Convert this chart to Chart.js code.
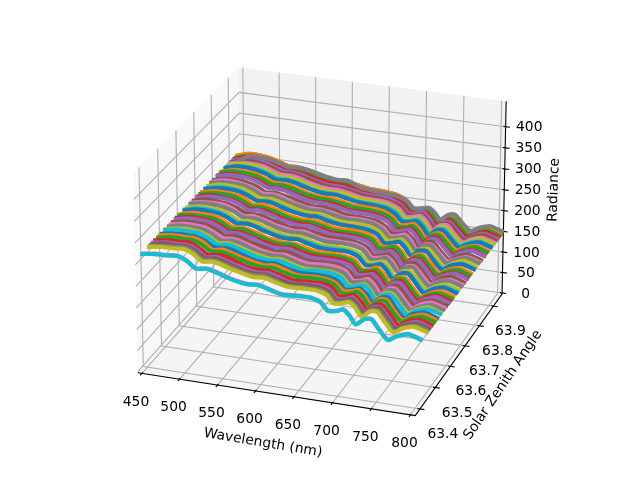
<!DOCTYPE html>
<html><head><meta charset="utf-8"><style>html,body{margin:0;background:#fff}canvas{display:block}</style>
<script src="https://cdn.jsdelivr.net/npm/chart.js@4"></script></head><body><canvas id="c" width="640" height="480"></canvas>
<script>
const wavelengths=[445,461,478,491,503,515,528,538,549,560,573,583,596,611,626,648,664,677,686,697,706,714,722,733,742,751,763,774,789,805];
const zenith=[63.95,63.95,63.94,63.93,63.922,63.912,63.902,63.957,63.893,63.881,63.875,63.857,63.848,63.833,63.828,63.808,63.797,63.79,63.774,63.761,63.757,63.738,63.728,63.714,63.708,63.691,63.679,63.671,63.653,63.642,63.637,63.617,63.608,63.595,63.588,63.572,63.56,63.55,63.535,63.529,63.511,63.5,63.491,63.475,63.463,63.456,63.407,63.448,63.441,63.405];
const r00=[252,260,260,256,250,243,243,241,236,231,226,224,224,220,215,213,209,198,182,184,188,176,158,172,174,158,140,150,158,150];
const r01=[253,261,260,257,251,244,244,241,237,231,226,225,225,220,215,213,209,199,182,184,188,176,158,172,173,158,139,150,158,150];
const r02=[252,260,260,256,250,243,244,241,236,232,227,224,224,221,214,213,210,198,183,185,189,177,158,173,174,159,140,151,158,150];
const r03=[253,261,261,256,251,242,243,240,236,231,226,225,225,220,215,212,209,199,182,184,188,176,159,172,175,158,140,150,159,151];
const r04=[253,260,260,257,250,243,243,241,235,230,225,224,224,219,214,213,209,198,182,185,189,177,158,173,174,158,139,150,158,150];
const r05=[253,261,261,257,251,243,245,241,237,232,227,224,224,221,215,213,209,200,184,185,189,177,160,173,175,160,140,151,159,151];
const r06=[254,260,260,258,251,244,244,242,236,231,226,225,225,220,214,213,210,199,183,186,190,178,159,174,176,159,140,150,158,150];
const r07=[236,254,253,249,244,238,240,238,234,229,225,223,224,213,209,206,203,194,179,181,185,176,161,175,177,161,143,153,161,153];
const r08=[254,261,261,257,251,243,244,241,236,231,226,224,224,220,215,213,209,200,184,185,189,177,159,173,175,160,140,150,159,151];
const r09=[254,261,261,258,251,243,244,241,236,230,225,225,224,219,214,213,210,200,183,186,190,178,160,174,176,159,141,151,158,150];
const r10=[254,262,262,258,252,243,245,243,237,232,227,225,226,221,216,213,210,199,184,185,189,177,159,175,175,160,140,150,159,152];
const r11=[254,261,261,259,251,244,244,242,236,231,226,224,225,220,215,214,211,200,183,186,191,178,160,174,176,160,141,151,159,151];
const r12=[255,262,262,259,252,243,245,242,237,231,227,225,224,220,215,213,210,201,185,185,190,178,159,175,176,161,140,151,160,152];
const r13=[255,262,261,258,253,243,244,241,236,231,226,224,225,220,214,214,211,200,184,186,191,179,161,175,177,160,141,152,159,151];
const r14=[255,262,262,259,252,243,245,242,236,230,225,224,224,219,214,213,210,201,183,185,190,178,158,174,176,161,140,151,160,152];
const r15=[255,261,262,259,253,242,244,241,237,231,226,223,225,220,214,213,211,200,185,186,191,179,161,176,177,160,141,152,160,151];
const r16=[255,262,262,258,252,243,245,242,236,230,225,224,224,219,213,214,210,201,184,187,192,180,160,175,176,161,142,151,159,152];
const r17=[255,261,261,259,252,242,244,241,235,230,226,223,225,219,214,213,211,200,183,185,190,178,161,176,178,161,141,152,160,153];
const r18=[255,262,262,260,253,243,244,242,236,231,225,224,224,218,213,213,210,201,185,186,191,179,159,175,177,162,140,151,161,152];
const r19=[255,262,263,260,252,242,245,241,236,230,225,223,224,219,213,212,211,200,184,187,192,180,161,176,177,161,142,152,160,152];
const r20=[255,261,262,260,253,244,245,243,236,231,227,225,226,219,215,214,211,204,185,188,193,181,164,179,180,163,141,153,161,153];
const r21=[256,262,262,260,254,243,246,242,237,230,226,224,225,220,214,214,212,203,187,187,192,180,162,178,179,164,141,152,160,152];
const r22=[256,262,263,261,253,243,245,242,237,231,225,224,224,219,213,213,211,203,186,189,194,182,163,177,180,163,142,152,161,153];
const r23=[256,263,262,260,253,244,245,243,236,231,226,225,225,220,214,214,212,202,185,188,193,181,164,179,179,164,141,153,160,152];
const r24=[256,262,263,261,254,243,246,242,237,230,226,223,225,219,213,213,212,204,187,189,193,182,163,178,180,163,142,152,161,153];
const r25=[256,263,262,260,253,243,244,242,236,231,225,224,224,219,214,214,211,203,186,188,194,181,164,179,180,164,141,153,161,152];
const r26=[257,262,263,261,253,242,245,241,236,230,226,223,225,218,213,213,212,203,187,189,193,182,163,178,179,164,142,152,160,153];
const r27=[257,263,263,260,254,243,244,242,236,230,225,224,224,219,213,214,212,204,186,188,194,182,164,179,181,163,141,153,161,153];
const r28=[257,263,263,261,253,242,245,242,235,230,225,223,225,218,212,213,211,203,187,189,194,181,163,178,180,164,142,152,161,152];
const r29=[257,264,264,261,253,243,244,241,236,229,225,223,224,219,213,213,212,204,186,189,193,182,164,179,180,164,142,153,160,153];
const r30=[257,263,263,261,254,243,246,243,236,231,225,224,226,219,213,213,213,205,188,189,195,183,164,180,182,165,141,153,161,153];
const r31=[257,264,264,262,255,244,245,242,237,230,226,223,225,219,213,214,212,206,187,190,196,184,166,180,182,164,142,153,162,154];
const r32=[258,263,263,262,254,243,246,243,236,231,225,224,226,218,212,213,213,205,189,190,195,183,165,181,182,165,142,153,161,153];
const r33=[258,264,264,261,254,243,245,242,236,230,226,223,225,219,213,214,213,206,188,191,196,184,166,180,183,165,143,154,162,154];
const r34=[258,264,264,262,254,244,245,242,237,230,225,224,225,218,212,213,212,206,188,190,195,183,165,181,182,165,142,153,162,153];
const r35=[258,263,264,262,255,243,246,243,236,231,226,223,226,219,212,213,213,205,189,191,196,184,166,180,183,166,143,154,161,154];
const r36=[258,264,264,262,254,243,245,242,236,230,225,223,225,218,212,214,213,206,188,190,196,184,165,181,182,165,142,154,162,154];
const r37=[258,264,264,262,254,242,245,243,237,230,225,224,225,218,211,213,212,206,189,191,195,183,166,181,183,166,143,153,162,155];
const r38=[258,264,265,263,255,243,246,242,236,231,226,223,226,219,212,213,213,205,188,190,196,184,165,182,183,165,143,154,163,154];
const r39=[259,264,264,263,254,242,245,242,236,230,225,223,225,218,211,214,213,206,189,191,196,185,166,181,182,166,142,154,162,155];
const r40=[258,263,264,263,256,244,246,244,238,231,226,225,226,219,213,214,214,207,190,192,197,186,169,183,185,166,143,155,163,154];
const r41=[259,264,264,264,257,243,247,243,237,232,227,224,227,220,212,214,213,206,191,193,198,186,168,184,185,165,143,154,163,155];
const r42=[258,264,263,264,256,244,246,243,237,231,226,224,226,219,213,215,214,207,190,192,198,187,168,183,186,166,144,154,162,155];
const r43=[259,263,264,265,256,243,246,244,238,231,226,225,226,219,212,214,214,208,190,193,198,186,169,183,185,167,143,155,163,155];
const r44=[259,264,264,265,258,243,247,243,237,232,227,224,227,220,212,214,215,207,191,192,199,186,168,184,185,166,143,154,164,155];
const r45=[258,264,264,265,257,244,246,243,237,231,226,224,226,219,213,215,214,207,190,192,198,187,168,183,186,166,144,154,163,156];
const r46=[259,263,264,266,258,243,246,243,237,231,226,224,226,219,212,214,214,207,190,192,198,186,168,183,185,166,143,154,163,155];
const r47=[259,263,264,266,258,244,246,243,237,231,226,225,226,219,212,214,214,207,191,192,198,186,169,183,185,167,143,154,163,155];
const r48=[259,263,264,266,258,243,246,243,237,232,227,224,226,219,213,214,214,207,190,193,198,187,168,184,185,166,143,155,163,155];
const r49=[259,263,264,266,258,243,246,243,237,231,226,224,226,219,212,214,214,207,190,192,198,186,168,183,185,166,143,154,163,155];
const radiance=[r00,r01,r02,r03,r04,r05,r06,r07,r08,r09,r10,r11,r12,r13,r14,r15,r16,r17,r18,r19,r20,r21,r22,r23,r24,r25,r26,r27,r28,r29,r30,r31,r32,r33,r34,r35,r36,r37,r38,r39,r40,r41,r42,r43,r44,r45,r46,r47,r48,r49];
const xTicks=[450,500,550,600,650,700,750,800];
const yTicks=[63.4,63.5,63.6,63.7,63.8,63.9];
const zTicks=[0,50,100,150,200,250,300,350,400];
const palette=['#1f77b4','#ff7f0e','#2ca02c','#d62728','#9467bd','#8c564b','#e377c2','#7f7f7f','#bcbd22','#17becf'];
const X=[444.4,806],Y=[63.37,63.963],Z=[-2.5,460];
const H=[0.618,0.633,0.461];
const elev=24*Math.PI/180,azim=-71*Math.PI/180,dist=16,S=3728,cx=324,cy=235.5;
const se=Math.sin(elev),ce=Math.cos(elev),sa=Math.sin(azim),ca=Math.cos(azim);
const U=[-sa,ca,0],V=[-se*ca,-se*sa,ce],W=[ce*ca,ce*sa,se];
const dot=(a,b)=>a[0]*b[0]+a[1]*b[1]+a[2]*b[2];
function P(x,y,z){const d=[((x-X[0])/(X[1]-X[0])*2-1)*H[0],((y-Y[0])/(Y[1]-Y[0])*2-1)*H[1],((z-Z[0])/(Z[1]-Z[0])*2-1)*H[2]];
 const f=dist-dot(W,d);return {x:dot(U,d)/f,y:dot(V,d)/f};}
const ds=[];
const seg=(pts,color,w,order)=>ds.push({data:pts,borderColor:color,borderWidth:w,pointRadius:0,tension:0,fill:false,clip:false,order:order,borderCapStyle:'butt'});
for(const t of xTicks){seg([P(t,Y[0],Z[0]),P(t,Y[1],Z[0]),P(t,Y[1],Z[1])],'#b0b0b0',1.11,1000);}
for(const t of yTicks){seg([P(X[1],t,Z[0]),P(X[0],t,Z[0]),P(X[0],t,Z[1])],'#b0b0b0',1.11,1000);}
for(const t of zTicks){seg([P(X[0],Y[0],t),P(X[0],Y[1],t),P(X[1],Y[1],t)],'#b0b0b0',1.11,1000);}
seg([P(X[0],Y[0],Z[0]),P(X[1],Y[0],Z[0]),P(X[1],Y[1],Z[0]),P(X[1],Y[1],Z[1])],'#000',1.11,900);
const dX=(X[1]-X[0])/12.5,dY=(Y[1]-Y[0])/12.5;
for(const t of xTicks)seg([P(t,Y[0]+0.1*dY,Z[0]),P(t,Y[0]-0.2*dY,Z[0])],'#000',1.11,900);
for(const t of yTicks)seg([P(X[1]-0.1*dX,t,Z[0]),P(X[1]+0.2*dX,t,Z[0])],'#000',1.11,900);
for(const t of zTicks)seg([P(X[1]-0.1*dX,Y[1],t),P(X[1]+0.2*dX,Y[1],t)],'#000',1.11,900);
radiance.forEach((row,i)=>{ds.push({data:row.map((r,j)=>P(wavelengths[j],zenith[i],r)),borderColor:palette[i%10],borderWidth:4.17,pointRadius:0,tension:0.25,fill:false,clip:false,order:500-i,borderCapStyle:'square',borderJoinStyle:'round'});});
const labels={id:'labels3d',beforeDatasetsDraw(ch){const c=ch.ctx,sx=ch.scales.x,sy=ch.scales.y;
 const poly=(pts,col)=>{c.beginPath();pts.forEach((p,i)=>{const a=sx.getPixelForValue(p.x),b=sy.getPixelForValue(p.y);i?c.lineTo(a,b):c.moveTo(a,b);});c.closePath();c.fillStyle=col;c.fill();};
 poly([P(X[0],Y[0],Z[0]),P(X[0],Y[1],Z[0]),P(X[0],Y[1],Z[1]),P(X[0],Y[0],Z[1])],'rgba(242,242,242,0.5)');
 poly([P(X[0],Y[1],Z[0]),P(X[1],Y[1],Z[0]),P(X[1],Y[1],Z[1]),P(X[0],Y[1],Z[1])],'rgba(230,230,230,0.5)');
 poly([P(X[0],Y[0],Z[0]),P(X[1],Y[0],Z[0]),P(X[1],Y[1],Z[0]),P(X[0],Y[1],Z[0])],'rgba(236,236,236,0.5)');
},afterDatasetsDraw(ch){const c=ch.ctx,sx=ch.scales.x,sy=ch.scales.y;
 const txt=(s,x,y,rot)=>{c.save();c.translate(x,y);c.rotate((rot||0)*Math.PI/180);c.font='13.89px "DejaVu Sans"';c.fillStyle='#000';c.textAlign='center';c.textBaseline='middle';c.fillText(s,0,0);c.restore();};
 const at=p=>[sx.getPixelForValue(p.x),sy.getPixelForValue(p.y)];
 xTicks.forEach(t=>{const a=at(P(t,Y[0],Z[0]));txt(String(t),a[0]-6,a[1]+28.5);});
 yTicks.forEach((t,i)=>{const a=at(P(X[1],t,Z[0]));txt(t.toFixed(1),a[0]+23-i*1.2,a[1]+25.5);});
 zTicks.forEach(t=>{const a=at(P(X[1],Y[1],t));txt(String(t),a[0]+23.6,a[1]+1);});
 txt('Wavelength (nm)',263,443,9.5);txt('Solar Zenith Angle',503,385,-56);txt('Radiance',554,190,-88);
}};
new Chart(document.getElementById('c'),{type:'line',data:{datasets:ds},plugins:[labels],options:{responsive:false,animation:false,devicePixelRatio:1,layout:{padding:0},plugins:{legend:{display:false},tooltip:{enabled:false}},scales:{x:{type:'linear',display:false,min:-cx/S,max:(640-cx)/S},y:{type:'linear',display:false,min:(cy-480)/S,max:cy/S}}}});
</script></body></html>
